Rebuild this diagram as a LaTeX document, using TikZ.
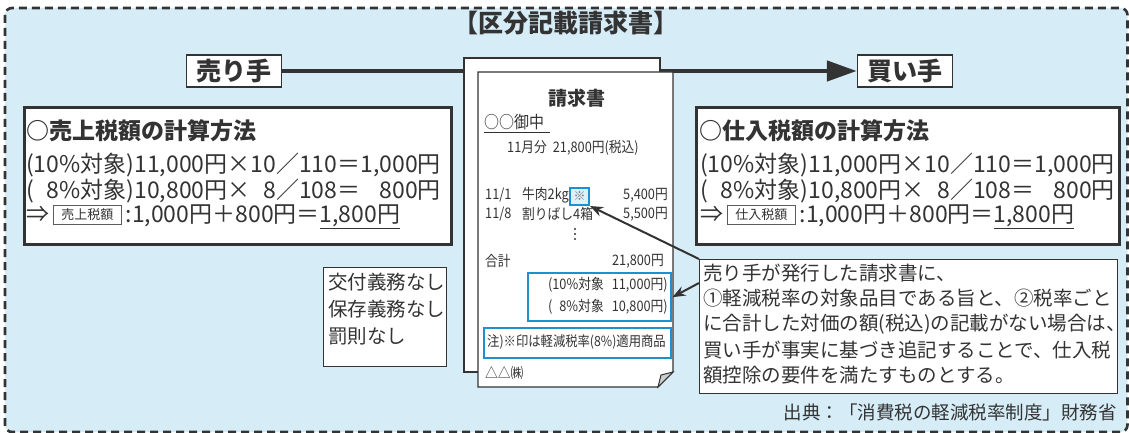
\documentclass[tikz,border=0pt]{standalone}
\usepackage{fontspec}
\setmainfont{Noto Sans CJK JP}
\newfontfamily\cnd{Noto Sans CJK JP}[FakeStretch=0.88]
\usetikzlibrary{arrows.meta}
\definecolor{bg}{HTML}{D6EDF8}
\definecolor{ink}{HTML}{333333}
\definecolor{bl}{HTML}{1E8FCF}
\definecolor{blfill}{HTML}{DDF1FB}
\newcommand\fz[1]{\fontsize{#1}{#1}\selectfont}
\newcommand\tagbox[1]{{\setlength\fboxsep{2.5pt}\setlength\fboxrule{0.9pt}\raisebox{3.2pt}{\fcolorbox{ink!80}{white}{\hspace{5pt}\fz{13}\color{ink}\rule[-0.12em]{0pt}{1em}#1\hspace{5pt}}}}}
\tikzset{
  frame/.style={draw=ink, line width=2.6pt, fill=white, anchor=north west, inner sep=0pt},
  thinbox/.style={draw=ink, line width=1.4pt, fill=white, anchor=north west, inner sep=0pt},
  party/.style={draw=ink, line width=1.4pt, fill=white, inner sep=0pt, minimum width=95pt, minimum height=32pt, font=\fz{25}\bfseries, text=ink},
  txt/.style={inner sep=0pt, text=ink},
  big/.style={txt, font=\fz{23}},
  doc/.style={txt, font=\cnd\fz{14.5}},
  note/.style={txt, font=\fz{19.5}},
  bluebox/.style={draw=bl, line width=2.4pt, anchor=north west, inner sep=0pt},
  pointer/.style={draw=ink, line width=2pt, -{Stealth[length=13pt,width=10pt]}},
}
\begin{document}
\begin{tikzpicture}[x=1pt,y=-1pt]
\useasboundingbox (0,0) rectangle (1129,433);
\fill[white] (0,0) rectangle (1129,433);
% outer dashed frame
\draw[ink, fill=bg, line width=2.6pt, dash pattern=on 8pt off 5pt, rounded corners=7pt] (5,8) rectangle (1127.5,432);
% title
\node[txt, font=\fz{25}\bfseries] (title) at (566,23) {【区分記載請求書】};
% seller / buyer
\node[party] (seller) at (234,71) {売り手};
\node[party] (buyer) at (905,71) {買い手};
\draw[ink, line width=4.5pt, -{Triangle[length=30pt,width=20pt]}] (seller.east) -- (buyer.west);
% left box
\node[frame, minimum width=427pt, minimum height=137pt] (lbox) at (23,106) {};
\node[txt, font=\fz{23}\bfseries, anchor=west] (lhead) at (26,131) {○売上税額の計算方法};
\node[big, anchor=west] (l1) at (26,165) {(10\%対象)11,000円×10／110＝1,000円};
\node[big, anchor=west] (l2) at (26,191) {(\phantom{1}8\%対象)10,800円×\phantom{1}8／108＝\phantom{1,}800円};
\node[big, anchor=west] (l3) at (26,217) {⇒\,\tagbox{売上税額}\,:1,000円＋800円＝\underline{1,800円}};
% right box
\node[frame, minimum width=423pt, minimum height=137pt] (rbox) at (695,106) {};
\node[txt, font=\fz{23}\bfseries, anchor=west] (rhead) at (699,131) {○仕入税額の計算方法};
\node[big, anchor=west] (r1) at (700,165) {(10\%対象)11,000円×10／110＝1,000円};
\node[big, anchor=west] (r2) at (700,191) {(\phantom{1}8\%対象)10,800円×\phantom{1}8／108＝\phantom{1,}800円};
\node[big, anchor=west] (r3) at (700,217) {⇒\,\tagbox{仕入税額}\,:1,000円＋800円＝\underline{1,800円}};
% obligations box
\node[thinbox, line width=1.2pt, minimum width=123pt, minimum height=99pt] (oblig) at (323,267) {};
\node[txt, font=\fz{19.5}, anchor=north west, align=left] (obligtext) at (328,273) {交付義務なし\\[7.5pt]保存義務なし\\[7.5pt]罰則なし};
% invoice sheets
\draw[ink, line width=1.3pt, fill=white] (464,58) rectangle (660,372);
\draw[ink, line width=1.3pt, fill=white] (478,72) -- (673,72) -- (673,372) -- (658,387) -- (478,387) -- cycle;
\fill[ink!25, draw=ink, line width=1pt] (673,372) -- (658,387) -- (661,375) -- cycle;
\node[txt, font=\fz{19}\bfseries] (invtitle) at (577,98) {請求書};
\node[doc, font=\cnd\fz{17}, anchor=west] (addr) at (484,122) {○○御中};
\draw[ink, line width=0.9pt] (484,132) -- (550,132);
\node[doc, anchor=west] (month) at (507,148) {11月分\hspace{6pt}21,800円(税込)};
\node[doc, anchor=west] (d1) at (485,195) {11/1};
\node[doc, anchor=west] (i1) at (522,195) {牛肉2kg};
\node[bluebox, fill=blfill, line width=2pt, minimum width=19pt, minimum height=17pt] (mark) at (569,187) {};
\node[txt, font=\fz{12}, text=ink!70] (marktext) at (mark.center) {※};
\node[doc, anchor=east] (a1) at (668,195) {5,400円};
\node[doc, anchor=west] (d2) at (485,214) {11/8};
\node[doc, anchor=west] (i2) at (522,214) {割りばし4箱};
\node[doc, anchor=east] (a2) at (668,214) {5,500円};
\fill[ink] (575,229) circle (1.2pt) (575,234) circle (1.2pt) (575,239) circle (1.2pt);
\node[doc, anchor=west] (total) at (485,261) {合計};
\node[doc, anchor=east] (totalamt) at (664,261) {21,800円};
\node[bluebox, minimum width=143pt, minimum height=48pt] (split) at (527,272) {};
\node[doc, anchor=east] (s1) at (668,285) {(10\%対象\hspace{8pt}11,000円)};
\node[doc, anchor=east] (s2) at (668,307) {(\phantom{1}8\%対象\hspace{8pt}10,800円)};
\node[bluebox, minimum width=187pt, minimum height=30pt] (footnote) at (483,327) {};
\node[doc, font=\cnd\fz{14}] (fntext) at (576.5,342) {注)※印は軽減税率(8\%)適用商品};
\node[doc, anchor=west] (company) at (485,373) {△△㈱};
% explanatory note
\node[thinbox, minimum width=418pt, minimum height=134pt] (note) at (699,259) {};
\node[note, anchor=north west, align=left] (notetext) at (703,264) {売り手が発行した請求書に、\\[5.5pt]①軽減税率の対象品目である旨と、②税率ごと\\[5.5pt]に合計した対価の額(税込)の記載がない場合は、\\[5.5pt]買い手が事実に基づき追記することで、仕入税\\[5.5pt]額控除の要件を満たすものとする。};
\draw[pointer] (note.north west) -- (mark.south east);
\draw[pointer] ([yshift=-24pt]note.north west) -- (split.east);
% source
\node[txt, font=\fz{18.5}, anchor=east] (source) at (1117,412) {出典：「消費税の軽減税率制度」財務省};
\end{tikzpicture}
\end{document}
